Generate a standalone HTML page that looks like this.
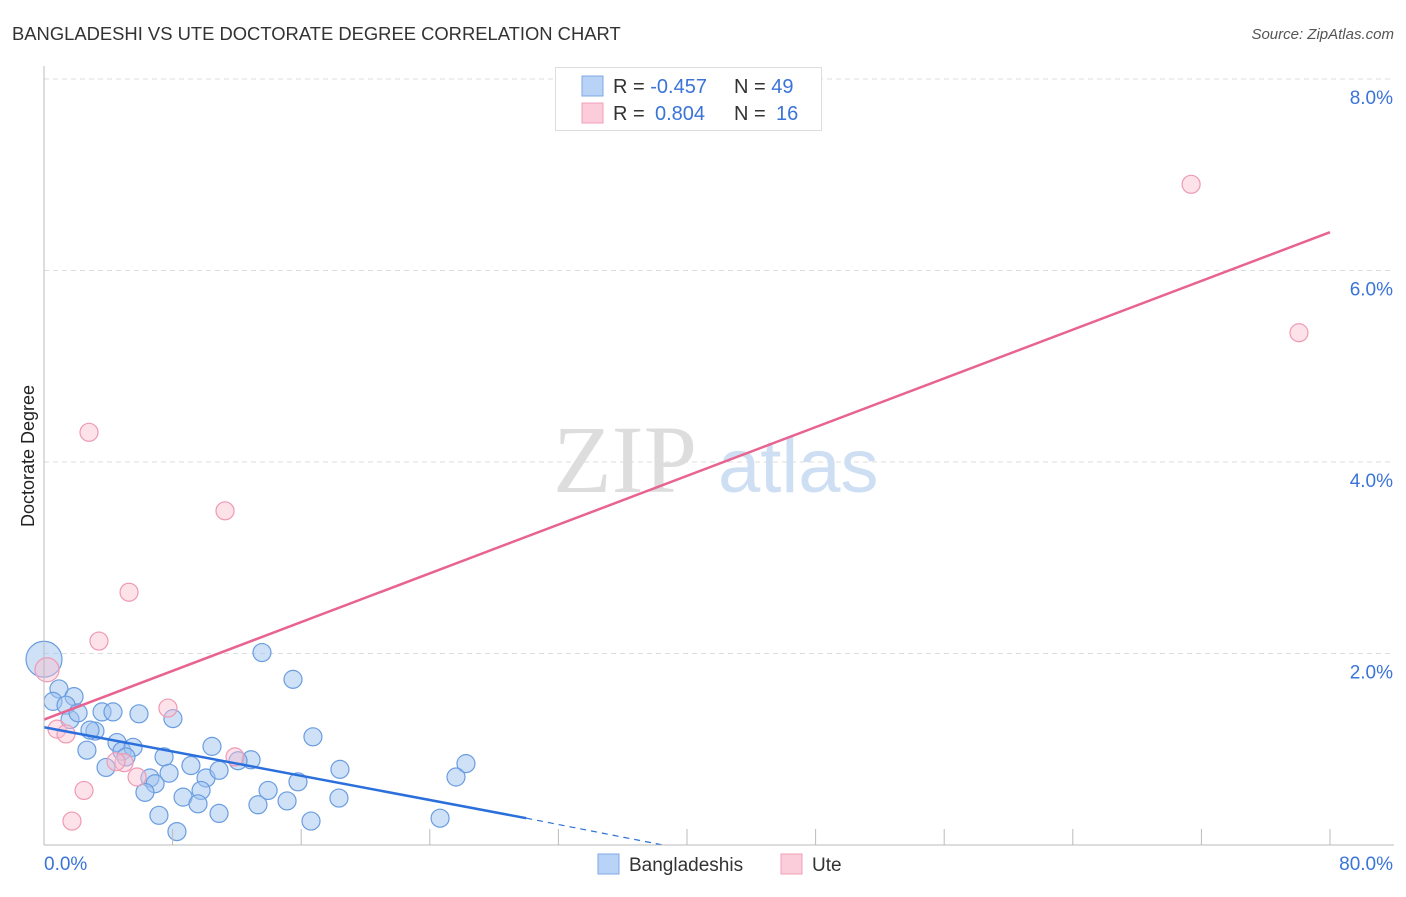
<!DOCTYPE html>
<html><head><meta charset="utf-8"><style>
body{margin:0;background:#fff;font-family:"Liberation Sans",sans-serif;}
svg text{font-family:"Liberation Sans",sans-serif;}
svg text.serif{font-family:"Liberation Serif",serif;}
</style></head><body>
<svg id="chart" width="1406" height="892">
<text x="12" y="40" font-size="18.4" fill="#333">BANGLADESHI VS UTE DOCTORATE DEGREE CORRELATION CHART</text>
<text x="1394" y="39" font-size="15" fill="#555" font-style="italic" text-anchor="end">Source: ZipAtlas.com</text>
<text x="34" y="456" font-size="18" fill="#222" text-anchor="middle" transform="rotate(-90 34 456)">Doctorate Degree</text>
<g id="grid"></g>
<text class="serif" x="553" y="492" font-size="96" fill="#ddd">ZIP</text>
<text x="718" y="492" font-size="76" fill="#cfdff3">atlas</text>
<g id="lines"></g>
<g id="pts"></g>
<g id="ticks"></g>
<g>
<rect x="555.5" y="67.5" width="266" height="63" fill="#fff" stroke="#ddd"/>
<rect x="582" y="76" width="21" height="20" fill="#b8d3f5" stroke="#7eaae6"/>
<rect x="582" y="103" width="21" height="20" fill="#fbcdda" stroke="#f0a0b8"/>
<text x="613" y="93" font-size="20" fill="#333">R = <tspan fill="#3a74d8">-0.457</tspan><tspan x="734">N = </tspan><tspan fill="#3a74d8">49</tspan></text>
<text x="613" y="120" font-size="20" fill="#333">R = <tspan x="655" fill="#3a74d8">0.804</tspan><tspan x="734">N = </tspan><tspan x="776" fill="#3a74d8">16</tspan></text>
</g>
<g>
<rect x="598" y="854" width="21" height="20" fill="#b8d3f5" stroke="#7eaae6"/>
<text x="629" y="871" font-size="19" fill="#333">Bangladeshis</text>
<rect x="781" y="854" width="21" height="20" fill="#fbcdda" stroke="#f0a0b8"/>
<text x="812" y="871" font-size="19" fill="#333">Ute</text>
</g>
</svg>
<script>
const yTicks=[2,4,6,8];
const yTickLabels=["2.0%","4.0%","6.0%","8.0%"];
const xTickLabels=["0.0%","80.0%"];
const blueX=[0,0.93,0.56,1.87,1.37,1.62,2.12,3.17,2.86,3.61,4.29,5.91,8.02,2.67,4.54,4.85,5.54,5.10,3.86,7.47,9.14,10.45,12.88,12.07,6.59,6.91,7.78,6.28,10.08,10.89,9.77,8.65,9.58,7.15,10.89,8.27,13.56,15.49,16.73,13.94,15.80,13.31,15.12,18.41,18.35,16.61,26.25,25.63,24.64];
const blueY=[1.94,1.63,1.50,1.55,1.46,1.31,1.38,1.19,1.20,1.39,1.39,1.37,1.32,0.99,1.07,0.98,1.02,0.92,0.81,0.92,0.83,1.03,0.89,0.88,0.70,0.64,0.75,0.55,0.70,0.78,0.57,0.50,0.43,0.31,0.33,0.14,2.01,1.73,1.13,0.57,0.66,0.42,0.46,0.79,0.49,0.25,0.85,0.71,0.28];
const pinkX=[71.36,78.07,2.80,11.26,5.29,3.42,0.19,7.71,0.81,1.37,11.88,4.98,4.48,5.79,2.49,1.74];
const pinkY=[6.90,5.35,4.31,3.49,2.64,2.13,1.83,1.43,1.21,1.16,0.92,0.86,0.87,0.71,0.57,0.25];
const pinkLine=[[0,1.31],[80,6.40]];
const blueLine=[[0,1.23],[30,0.28]];
const blueDash=[[30,0.28],[38.5,0]];
const NS="http://www.w3.org/2000/svg";
const sx=v=>44+v/80*1286, sy=v=>845-v*95.75;
function mk(t,a,p){const e=document.createElementNS(NS,t);for(const k in a)e.setAttribute(k,a[k]);p.appendChild(e);return e;}
const grid=document.getElementById('grid'),ticks=document.getElementById('ticks');
yTicks.forEach((v,i)=>{
 const l=mk('line',{x1:44,x2:1394,y1:sy(v),y2:sy(v),stroke:'#ddd','stroke-dasharray':'5,4'},grid);
 
 
 const t=mk('text',{x:1393,y:sy(v)+25,'font-size':19,fill:'#3a74d8','text-anchor':'end'},ticks);
 t.textContent=yTickLabels[i];
 
 
});
mk('line',{x1:44,x2:44,y1:66,y2:845,stroke:'#bbb'},ticks);
const xa=mk('line',{x1:44,x2:1394,y1:845,y2:845,stroke:'#bbb'},ticks);


for(let i=1;i<=10;i++){mk('line',{x1:sx(i*8),x2:sx(i*8),y1:829,y2:845,stroke:'#bbb'},ticks);}
[[44,'start'],[1393,'end']].forEach((p,i)=>{const t=mk('text',{x:p[0],y:870,'font-size':19,fill:'#3a74d8','text-anchor':p[1]},ticks);t.textContent=xTickLabels[i];
 
 });
const pts=document.getElementById('pts');
blueX.forEach((x,i)=>{const c=mk('circle',{cx:sx(x),cy:sy(blueY[i]),r:i==0?18:9,fill:'rgba(160,196,240,0.5)',stroke:'#6a9de0','stroke-width':1.2},pts);
 
 });
pinkX.forEach((x,i)=>{const c=mk('circle',{cx:sx(x),cy:sy(pinkY[i]),r:i==6?12:9,fill:'rgba(250,190,208,0.45)',stroke:'#ee9ab4','stroke-width':1.2},pts);
 
 });
const pl=mk('line',{x1:sx(pinkLine[0][0]),y1:sy(pinkLine[0][1]),x2:sx(pinkLine[1][0]),y2:sy(pinkLine[1][1]),stroke:'#e8638f','stroke-width':2.5},pts);


const bl=mk('line',{x1:sx(blueLine[0][0]),y1:sy(blueLine[0][1]),x2:sx(blueLine[1][0]),y2:sy(blueLine[1][1]),stroke:'#2a6fdb','stroke-width':2.5},pts);


const bd=mk('line',{x1:sx(blueDash[0][0]),y1:sy(blueDash[0][1]),x2:sx(blueDash[1][0]),y2:sy(blueDash[1][1]),stroke:'#2a6fdb','stroke-width':1.2,'stroke-dasharray':'6,5'},pts);


</script>
</body></html>
